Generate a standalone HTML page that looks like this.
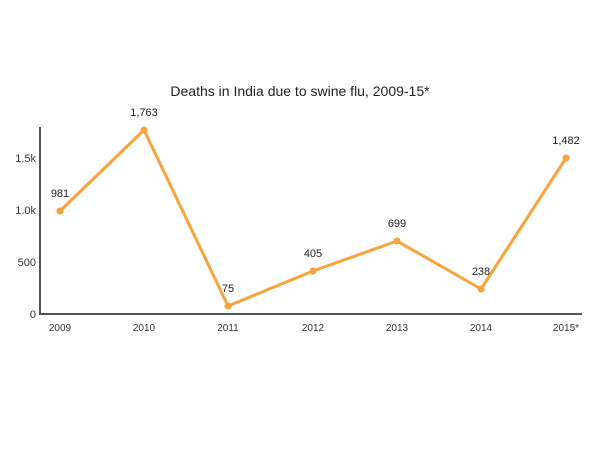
<!DOCTYPE html>
<html><head><style>body{margin:0;background:#fff}</style></head><body>
<svg width="600" height="450" xmlns="http://www.w3.org/2000/svg" font-family="Liberation Sans, sans-serif">
<rect width="600" height="450" fill="#fff"/>
<text x="300" y="96" font-size="14" text-anchor="middle" fill="#222">Deaths in India due to swine flu, 2009-15*</text>
<g stroke="#555" stroke-width="2" fill="none"><path d="M40 127V314H582"/></g>
<g font-size="11" fill="#333" text-anchor="end">
<text x="36" y="162">1.5k</text><text x="36" y="214">1.0k</text><text x="36" y="266">500</text><text x="36" y="318">0</text>
</g>
<g font-size="10" fill="#333" text-anchor="middle">
<text x="60" y="331">2009</text><text x="144" y="331">2010</text><text x="228" y="331">2011</text><text x="313" y="331">2012</text><text x="397" y="331">2013</text><text x="481" y="331">2014</text><text x="566" y="331">2015*</text>
</g>
<polyline points="60,211 144,130 228,306 313,271 397,241 481,289 566,158" fill="none" stroke="#f9a33a" stroke-width="3" stroke-linejoin="round"/>
<g fill="#f9a33a"><circle cx="60" cy="211" r="3.5"/><circle cx="144" cy="130" r="3.5"/><circle cx="228" cy="306" r="3.5"/><circle cx="313" cy="271" r="3.5"/><circle cx="397" cy="241" r="3.5"/><circle cx="481" cy="289" r="3.5"/><circle cx="566" cy="158" r="3.5"/></g>
<g font-size="11" fill="#222" text-anchor="middle">
<text x="60" y="197">981</text><text x="144" y="116">1,763</text><text x="228" y="292">75</text><text x="313" y="257">405</text><text x="397" y="227">699</text><text x="481" y="275">238</text><text x="566" y="144">1,482</text>
</g>
</svg>
</body></html>
